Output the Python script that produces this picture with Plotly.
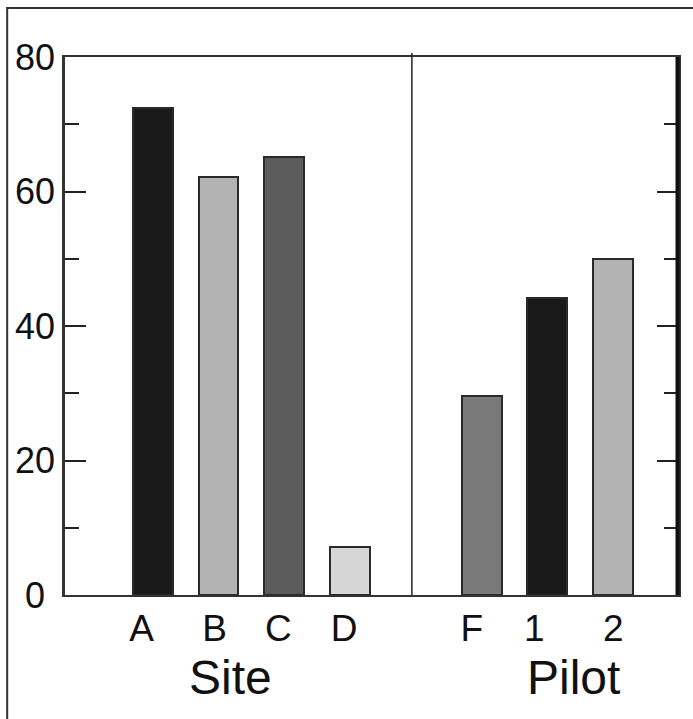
import plotly.graph_objects as go

# ---- data ----
site_labels = ["A", "B", "C", "D"]
site_values = [72.4, 62.2, 65.2, 7.1]
pilot_labels = ["F", "1", "2"]
pilot_values = [29.6, 44.2, 50.0]
y_tick_vals = [0, 20, 40, 60, 80]
y_tick_text = ["0\u00a0", "20", "40", "60", "80"]
group_titles = ["Site", "Pilot"]

# ---- style ----
site_colors = ["#1a1a1a", "#b3b3b3", "#5c5c5c", "#d6d6d6"]
pilot_colors = ["#7a7a7a", "#1a1a1a", "#b3b3b3"]
label_offsets = [-0.17, -0.06, -0.09, -0.09, -0.15, -0.2, 0.0]

W, H = 693, 719
L, R, T, B = 65, 13, 57, 124
PW, PH = W - L - R, H - T - B

site_x = list(range(len(site_labels)))
pilot_x = [len(site_labels) + 1 + i for i in range(len(pilot_labels))]

def px_x(p):
    return (p - L) / PW

def px_y(p):
    return (H - B - p) / PH

fig = go.Figure()
fig.add_trace(go.Bar(x=site_x, y=site_values, width=0.606,
                     marker=dict(color=site_colors, line=dict(color="#2a2a2a", width=2)),
                     showlegend=False))
fig.add_trace(go.Bar(x=pilot_x, y=pilot_values, width=0.606,
                     marker=dict(color=pilot_colors, line=dict(color="#2a2a2a", width=2)),
                     showlegend=False))

all_x = site_x + pilot_x
tickvals = [p + o for p, o in zip(all_x, label_offsets)]

fig.update_layout(
    width=W, height=H,
    margin=dict(l=L, r=R, t=T, b=B, pad=0),
    paper_bgcolor="white", plot_bgcolor="white",
    font=dict(family="Liberation Sans, Arial, sans-serif", color="#111"),
    xaxis=dict(range=[-1.333, 7.985], tickmode="array", tickvals=tickvals,
               ticktext=site_labels + pilot_labels, ticks="", showgrid=False,
               zeroline=False, showline=True, linecolor="#333", linewidth=2,
               mirror=True, tickfont=dict(size=37), ticklabelstandoff=0),
    yaxis=dict(range=[0, 80], tickmode="array", tickvals=y_tick_vals,
               ticktext=y_tick_text, ticks="inside", ticklen=21, tickwidth=2,
               tickcolor="#222", showgrid=False, zeroline=False, showline=True,
               linecolor="#333", linewidth=2.5, mirror="allticks",
               tickfont=dict(size=36), ticklabelstandoff=0,
               minor=dict(ticks="inside", ticklen=14, tickwidth=2, tickcolor="#222",
                          tickvals=[10, 30, 50, 70], showgrid=False)),
    bargap=0,
)

shapes = []
# divider between groups
shapes.append(dict(type="line", xref="x", yref="paper", x0=3.94, x1=3.94,
                   y0=0, y1=px_y(53), line=dict(color="#222", width=1.5)))
# thick right axis
shapes.append(dict(type="line", xref="paper", yref="paper", x0=px_x(679.5), x1=px_x(679.5),
                   y0=0, y1=1, line=dict(color="#111", width=4)))
# outer frame (left and top)
shapes.append(dict(type="line", xref="paper", yref="paper", x0=px_x(7), x1=px_x(7),
                   y0=px_y(7), y1=px_y(H + 5), line=dict(color="#333", width=2)))
shapes.append(dict(type="line", xref="paper", yref="paper", x0=px_x(6), x1=px_x(W + 5),
                   y0=px_y(8), y1=px_y(8), line=dict(color="#333", width=2)))
fig.update_layout(shapes=shapes)

title_pos = [(231, 677), (575, 677)]
for t, (cx, cy) in zip(group_titles, title_pos):
    fig.add_annotation(text=t, xref="paper", yref="paper", x=px_x(cx), y=px_y(cy),
                       xanchor="center", yanchor="middle", showarrow=False,
                       font=dict(size=48, color="#111"))

fig.write_html("out.html", config={"displayModeBar": False},
               post_script="document.body.style.margin='0';document.body.style.overflow='hidden';")
